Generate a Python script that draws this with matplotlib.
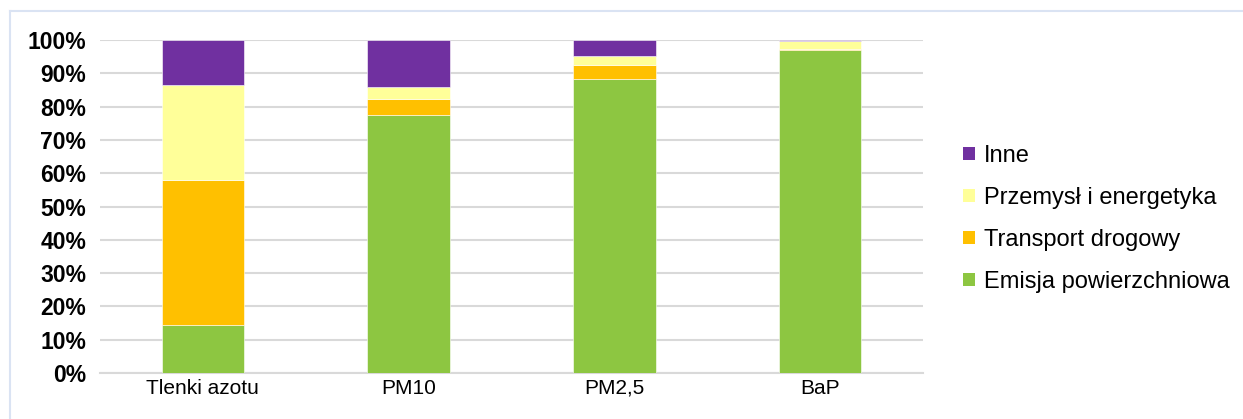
import matplotlib.pyplot as plt
from matplotlib.lines import Line2D
from matplotlib.patches import Patch

# data (percent share of emission sources)
categories = ["Tlenki azotu", "PM10", "PM2,5", "BaP"]
emisja = [14.4, 77.5, 88.2, 97.1]
transport = [43.6, 4.8, 4.4, 0.3]
przemysl = [28.5, 3.5, 2.5, 2.3]
inne = [13.5, 14.2, 4.9, 0.3]

series = ["Emisja powierzchniowa", "Transport drogowy", "Przemysł i energetyka", "Inne"]
colors = ["#8DC641", "#FFC000", "#FFFF99", "#7030A0"]

plt.rcParams["font.family"] = ["Liberation Sans", "DejaVu Sans"]

fig = plt.figure(figsize=(12.43, 4.19), dpi=100)
ax = fig.add_axes([100 / 1243, 1 - 373 / 419, 823 / 1243, 333 / 419])

x = range(len(categories))
bottom = [0] * len(categories)
for vals, name, col in zip([emisja, transport, przemysl, inne], series, colors):
    ax.bar(x, vals, width=0.4, bottom=bottom, color=col, label=name,
           edgecolor="white", linewidth=0.4, zorder=3)
    bottom = [b + v for b, v in zip(bottom, vals)]

ax.set_xlim(-0.5, len(categories) - 0.5)
ax.set_ylim(0, 100)
ax.set_yticks(range(0, 101, 10))
ax.set_yticklabels([f"{v}%" for v in range(0, 101, 10)], fontsize=16.5, fontweight="bold")
ax.set_xticks(list(x))
ax.set_xticklabels(categories, fontsize=15)
ax.tick_params(axis="both", length=0)
ax.tick_params(axis="y", pad=10)
ax.tick_params(axis="x", pad=4)
ax.grid(axis="y", color="#D9D9D9", linewidth=1.5, zorder=0)
for s in ["top", "right", "left"]:
    ax.spines[s].set_visible(False)
ax.spines["bottom"].set_color("#D9D9D9")
ax.spines["bottom"].set_linewidth(1.5)

# legend, reversed order like in the source
handles = [Patch(facecolor=c, edgecolor="none") for c in colors][::-1]
fig.legend(handles, series[::-1], loc="center left", bbox_to_anchor=(963 / 1243, 1 - 219 / 419),
           frameon=False, fontsize=17, handlelength=0.5, handleheight=0.5,
           handletextpad=0.4, labelspacing=0.85, borderpad=0, borderaxespad=0)

# chart-area border (cropped on right and bottom)
fig.add_artist(Line2D([10 / 1243, 1.01], [1 - 11 / 419] * 2, color="#DAE3F3", linewidth=1.5))
fig.add_artist(Line2D([10 / 1243] * 2, [-0.01, 1 - 11 / 419], color="#DAE3F3", linewidth=1.5))

fig.savefig("out.png", dpi=100)
